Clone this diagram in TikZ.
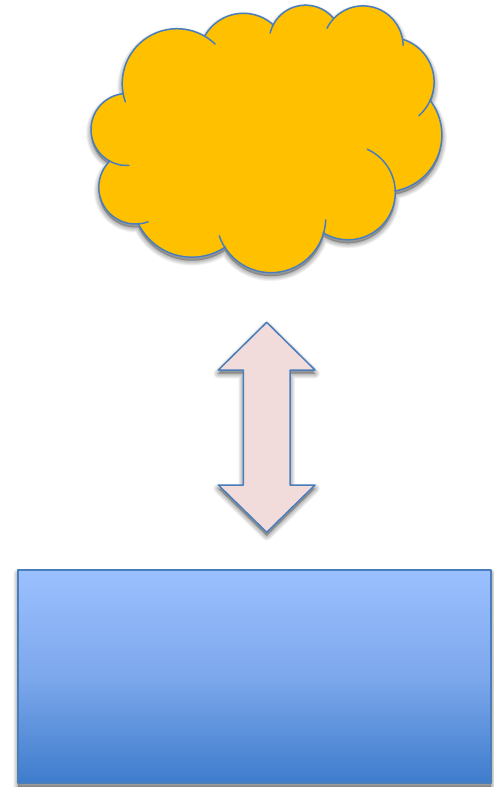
\documentclass[tikz,border=0pt]{standalone}
\definecolor{cloudfill}{RGB}{255,192,0}
\definecolor{edgeblue}{RGB}{74,126,187}
\definecolor{arrowfill}{RGB}{242,220,219}
\definecolor{paneltop}{RGB}{155,192,255}
\definecolor{panelmid}{RGB}{125,168,236}
\definecolor{panelbottom}{RGB}{62,124,204}
\tikzset{
    outline/.style={draw=edgeblue, line width=1.5pt, line join=round},
    softshadow/.style={draw=black, fill=black, opacity=0.03, line join=round, shift={(0,3.5)}},
}
% one lobe of the cloud: centre x, centre y, radius, from angle, to angle
\newcommand{\lobe}[5]{plot[domain=#4:#5, samples=30, variable=\x] ({#1+#3*cos(\x)}, {#2+#3*sin(\x)})}
\newcommand{\nextlobe}[5]{-- plot[domain=#4:#5, samples=30, variable=\x] ({#1+#3*cos(\x)}, {#2+#3*sin(\x)})}
\newcommand{\cloudpath}{
    \lobe{127}{129.5}{36}{264}{118}
    \nextlobe{135.5}{187.3}{36.7}{223.7}{85.6}
    \nextlobe{192}{197.4}{59.8}{154.3}{56}
    \nextlobe{271}{218}{54.7}{147}{15.3}
    \nextlobe{348}{192.5}{47.3}{121.8}{-1.8}
    \nextlobe{385}{135}{56.9}{79.9}{-37.5}
    \nextlobe{389.3}{82}{44.8}{23.5}{-72.6}
    \nextlobe{363}{46}{40.1}{-9.6}{-136}
    \nextlobe{305.5}{41.5}{36.3}{-41}{-152.9}
    \nextlobe{243.4}{57.5}{44.2}{-47.4}{-150.4}
    \nextlobe{177}{83.5}{54.8}{-59.6}{-191.4}
    -- cycle
}
\newcommand{\arrowpath}{
    (266.7,322.3) -- (315,370) -- (290,370) -- (290,485) -- (315,485) -- (266.7,532.3)
    -- (218.3,485) -- (243.3,485) -- (243.3,370) -- (218.3,370) -- cycle
}
\newcommand{\panelpath}{(18,570) rectangle (491,783)}
\begin{document}
\begin{tikzpicture}[x=1pt,y=-1pt]
    \useasboundingbox (0,0) rectangle (493,787);

    % blurred shadows under the three shapes
    \foreach \w in {1,2,...,10} {
        \path[softshadow, line width=\w pt] \cloudpath;
        \path[softshadow, line width=\w pt] \arrowpath;
        \path[softshadow, line width=\w pt] \panelpath;
    }

    % cloud
    \path[outline, fill=cloudfill] \cloudpath;
    % short inner strokes where the lobes meet
    \foreach \cx/\cy/\rad/\angA/\angB in {127/129.5/36/118/87, 135.5/187.3/36.7/85.6/70,
        271/218/54.7/161/147, 271/218/54.7/15.3/2, 348/192.5/47.3/-1.8/-66,
        389.3/82/44.8/48.8/23.5, 363/46/40.1/-136/-153.6, 363/46/40.1/-1/-9.6,
        305.5/41.5/36.3/-152.9/-166.6, 177/83.5/54.8/-46.1/-59.6, 177/83.5/54.8/-191.4/-199.6}
        \draw[outline, line cap=round] \lobe{\cx}{\cy}{\rad}{\angA}{\angB};

    % double arrow
    \path[outline, fill=arrowfill] \arrowpath;

    % panel
    \path[outline, line width=1.2pt, top color=paneltop, bottom color=panelbottom, middle color=panelmid] \panelpath;
\end{tikzpicture}
\end{document}
